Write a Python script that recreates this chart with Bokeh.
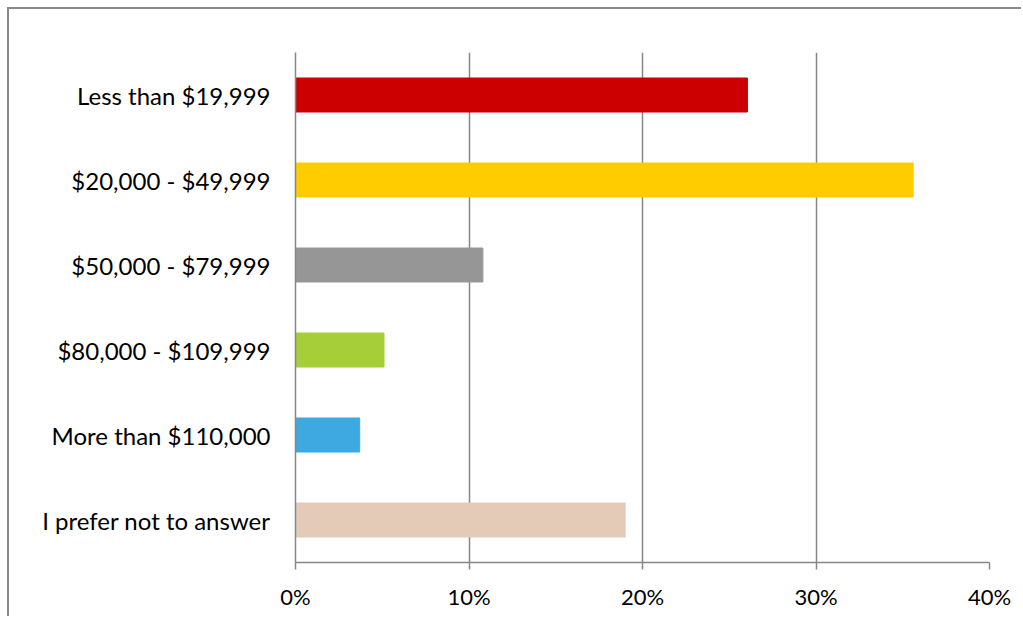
from bokeh.plotting import figure
from bokeh.models import Range1d, FactorRange, FixedTicker, NumeralTickFormatter, ColumnDataSource
from bokeh.embed import file_html
from bokeh.resources import INLINE

categories = ["Less than $19,999", "$20,000 - $49,999", "$50,000 - $79,999",
              "$80,000 - $109,999", "More than $110,000", "I prefer not to answer"]
values = [0.2605, 0.356, 0.108, 0.051, 0.037, 0.19]
colors = ["#CC0000", "#FFCC00", "#969696", "#A6CE39", "#3DA9E0", "#E3CBB8"]
x_ticks = [0, 0.1, 0.2, 0.3, 0.4]

FONT = "Lato"
GRID = "#868686"

src = ColumnDataSource(dict(cat=categories, val=values, color=colors))

p = figure(width=1014, height=609, output_backend="svg", toolbar_location=None,
           y_range=FactorRange(factors=list(reversed(categories)), range_padding=0),
           x_range=Range1d(0, 0.4),
           min_border_left=286, min_border_top=43, min_border_right=34, min_border_bottom=56)
p.styles = {"margin-left": "7px", "margin-top": "7px",
            "border-left": "2px solid #898989", "border-top": "2px solid #898989"}

p.hbar(y="cat", right="val", left=0, height=0.4, color="color", source=src)

p.outline_line_color = None
p.ygrid.grid_line_color = None
p.xgrid.grid_line_color = GRID
p.xgrid.grid_line_width = 1.5
p.xgrid.ticker = FixedTicker(ticks=x_ticks)

p.xaxis.ticker = FixedTicker(ticks=x_ticks)
p.xaxis.formatter = NumeralTickFormatter(format="0%")
p.xaxis.axis_line_color = GRID
p.xaxis.axis_line_width = 1.5
p.xaxis.major_tick_line_color = GRID
p.xaxis.major_tick_line_width = 1.5
p.xaxis.major_tick_out = 7
p.xaxis.major_tick_in = 0
p.xaxis.minor_tick_line_color = None
p.xaxis.major_label_standoff = 13
p.xaxis.major_label_text_font = FONT
p.xaxis.major_label_text_font_size = "22px"
p.xaxis.major_label_text_color = "#000000"

p.yaxis.axis_line_color = GRID
p.yaxis.axis_line_width = 1.5
p.yaxis.major_tick_line_color = None
p.yaxis.minor_tick_line_color = None
p.yaxis.major_label_standoff = 19
p.yaxis.major_label_text_font = FONT
p.yaxis.major_label_text_font_size = "24px"
p.yaxis.major_label_text_color = "#000000"

open("out.html", "w").write(file_html(p, INLINE))
